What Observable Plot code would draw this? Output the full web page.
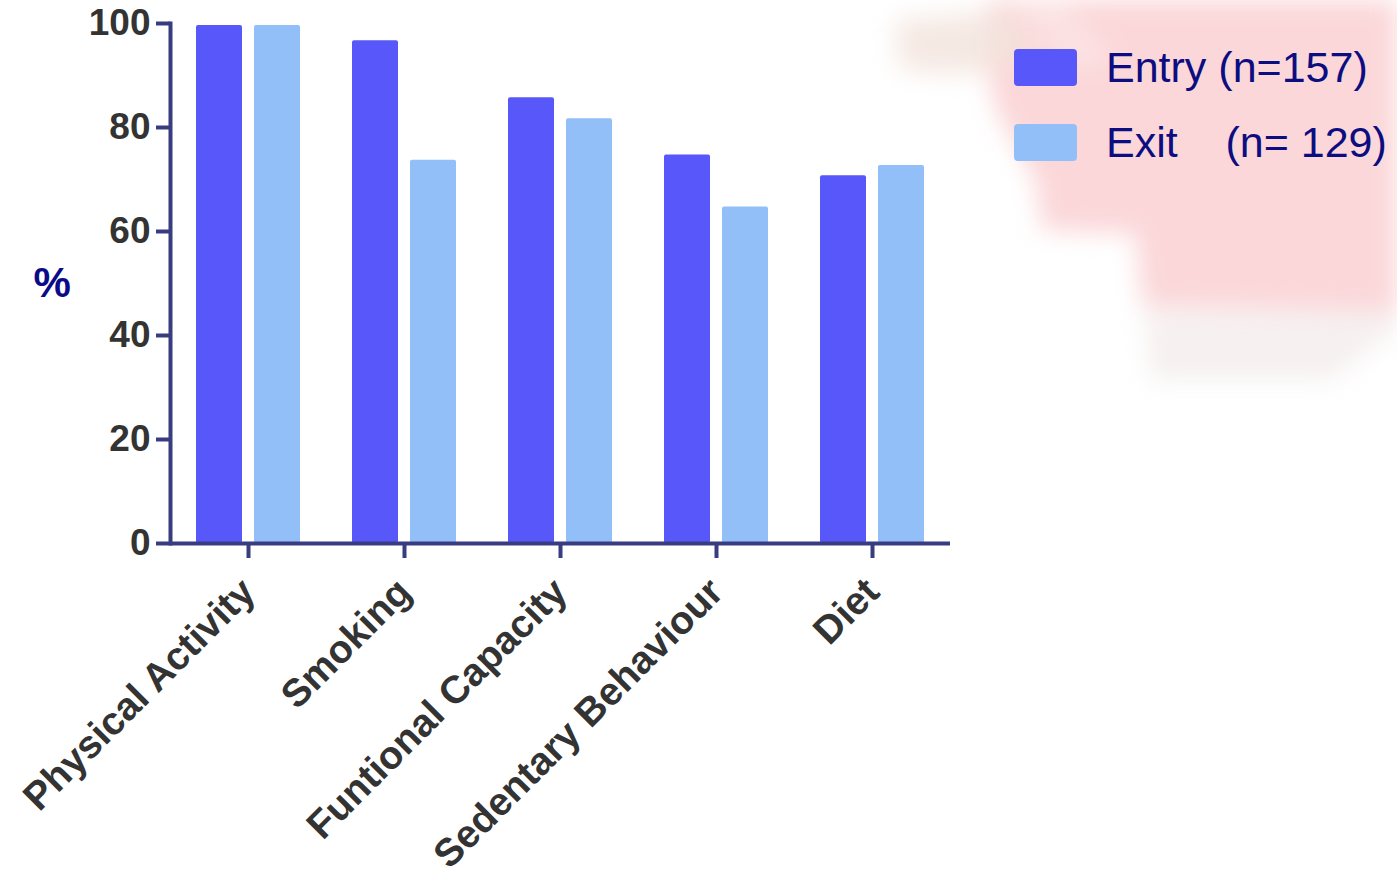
<!DOCTYPE html>
<html>
<head>
<meta charset="utf-8">
<script src="https://cdn.jsdelivr.net/npm/d3@7"></script>
<script src="https://cdn.jsdelivr.net/npm/@observablehq/plot@0.6"></script>
<style>
  html, body { margin: 0; padding: 0; background: #ffffff; }
  #wrap { position: relative; width: 1397px; height: 874px; overflow: hidden;
          font-family: "Liberation Sans", Arial, Helvetica, sans-serif; }
  .haze { position: absolute; left: 0; top: 0; width: 1397px; height: 874px; }
  .haze div { position: absolute; left: 0; top: 0; width: 1397px; height: 874px; }
  #chart { position: absolute; left: 0; top: 0; }
  #legend { position: absolute; left: 0; top: 0; width: 1397px; height: 300px; pointer-events: none; }
  .swatch { position: absolute; width: 63px; height: 37px; border-radius: 4px; }
  .lab { position: absolute; font-size: 43px; line-height: 43px; color: #0d0d82; white-space: pre; }
</style>
</head>
<body>
<div id="wrap">
  <!-- soft pink watermark behind the plot, upper right -->
  <div class="haze" style="filter:blur(12px);">
    <div style="background:#fbd7d9;
         clip-path:polygon(990px -20px, 1420px -20px, 1420px 312px, 1142px 306px, 1136px 234px, 1042px 230px, 1036px 182px, 996px 110px, 985px 60px);"></div>
    <div style="background:#f3e3dc;opacity:0.8;
         clip-path:polygon(895px 20px, 1010px 10px, 1040px 60px, 960px 75px, 900px 70px);"></div>
    <div style="background:#fde9ea;
         clip-path:polygon(1010px 0px, 1060px 0px, 1120px 60px, 1070px 70px);opacity:0.6;"></div>
    <div style="background:#efe4e4;opacity:0.55;
         clip-path:polygon(1145px 310px, 1397px 312px, 1397px 330px, 1330px 380px, 1150px 380px);"></div>
  </div>
  <div id="chart"></div>
  <div id="legend"></div>
</div>
<script>
// Risk-factor categories along the x axis
const categories = ["Physical Activity", "Smoking", "Funtional Capacity", "Sedentary Behaviour", "Diet"];
// The two assessment series
const series = ["Entry", "Exit"];
const seriesLabels = ["Entry (n=157)", "Exit    (n= 129)"];
// Percentage of participants per category
const entryValues = [99.6, 96.7, 85.7, 74.7, 70.7];
const exitValues  = [99.6, 73.7, 81.7, 64.7, 72.7];
// Y axis tick values
const yTicks = [0, 20, 40, 60, 80, 100];

const seriesColors = ["#5857f9", "#92bff8"];
const axisColor = "#383c80";
const tickTextColor = "#333333";
const fontFamily = '"Liberation Sans", Arial, Helvetica, sans-serif';

const rows = categories.flatMap((c, i) => [
  {category: c, series: series[0], value: entryValues[i]},
  {category: c, series: series[1], value: exitValues[i]}
]);

const chart = Plot.plot({
  width: 1397,
  height: 874,
  marginLeft: 170,
  marginRight: 447,
  marginTop: 23,
  marginBottom: 331,
  style: {fontFamily, background: "transparent", overflow: "visible"},
  fx: {domain: categories, padding: 0, label: null},
  x: {domain: series, paddingInner: 0.21, paddingOuter: 0.436, axis: null},
  y: {domain: [0, 100], axis: null},
  color: {domain: series, range: seriesColors},
  marks: [
    Plot.barY(rows, {fx: "category", x: "series", y: "value", fill: "series", rx: 2}),
    Plot.ruleY([0], {stroke: axisColor, strokeWidth: 4}),
    Plot.frame({anchor: "left", stroke: axisColor, strokeWidth: 4, facetAnchor: "left"}),
    Plot.axisY(yTicks, {
      anchor: "left", tickSize: 14, tickPadding: 6,
      stroke: axisColor, strokeWidth: 4,
      fill: tickTextColor, fontSize: 37, fontWeight: "bold", label: null
    }),
    Plot.axisFx({
      anchor: "bottom", tickSize: 15, tickPadding: 27, tickRotate: -45,
      stroke: axisColor, strokeWidth: 4,
      fill: tickTextColor, fontSize: 39, fontWeight: "bold", label: null
    }),
    Plot.text(["%"], {
      frameAnchor: "left", dx: -137, text: d => d,
      fill: "#0b0b8a", fontSize: 42, fontWeight: "bold", facetAnchor: "left"
    })
  ]
});
document.getElementById("chart").appendChild(chart);

// Legend: one swatch and label per series
const legend = document.getElementById("legend");
series.forEach((s, i) => {
  const top = 49 + i * 75;
  const sw = document.createElement("div");
  sw.className = "swatch";
  sw.style.left = "1014px";
  sw.style.top = top + "px";
  sw.style.background = seriesColors[i];
  legend.appendChild(sw);
  const lab = document.createElement("div");
  lab.className = "lab";
  lab.style.left = "1106px";
  lab.style.top = (top - 3) + "px";
  lab.textContent = seriesLabels[i];
  legend.appendChild(lab);
});
</script>
</body>
</html>
